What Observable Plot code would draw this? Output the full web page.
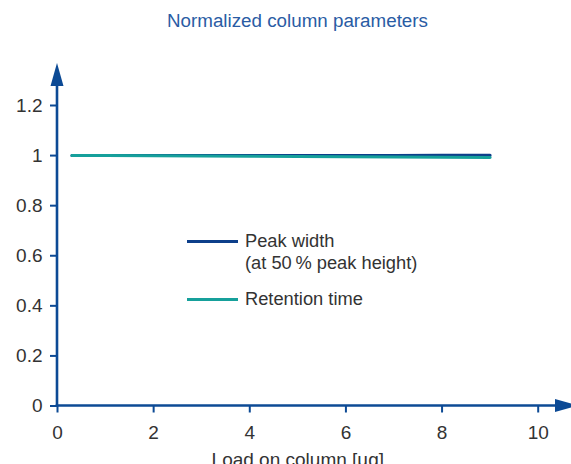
<!DOCTYPE html>
<html>
<head>
<meta charset="utf-8">
<script src="https://cdn.jsdelivr.net/npm/d3@7"></script>
<script src="https://cdn.jsdelivr.net/npm/@observablehq/plot@0.6"></script>
<style>
  html, body { margin: 0; padding: 0; background: #fff; }
  #wrap { position: relative; width: 571px; height: 464px; overflow: hidden; font-family: "Liberation Sans", Arial, sans-serif; }
  #title { position: absolute; left: 57px; width: 481px; top: 10px; text-align: center; font-size: 18.8px; line-height: 22px; color: #2a5ca4; }
  #chart { position: absolute; left: 0; top: 40px; }
  .leg { position: absolute; font-size: 18.3px; color: #333; line-height: 22px; }
  .legline { position: absolute; height: 3px; width: 51px; }
  #chart svg text { font-size: 19px; }
</style>
</head>
<body>
<div id="wrap">
  <div id="title">Normalized column parameters</div>
  <div id="chart"></div>
</div>
<script>
const title = "Normalized column parameters";
const xLabel = "Load on column [µg]";
const xTicks = [0, 2, 4, 6, 8, 10];
const yTicks = [0, 0.2, 0.4, 0.6, 0.8, 1, 1.2];
const loads = [0.3, 1, 2, 3, 4, 5, 6, 7, 8, 9];
const peakWidth = [1.0, 1.0, 1.0, 1.0, 1.0, 1.0, 1.0005, 1.0008, 1.001, 1.0012];
const retentionTime = [1.0, 1.0, 0.999, 0.998, 0.997, 0.996, 0.995, 0.994, 0.993, 0.992];
const seriesNames = ["Peak width", "Retention time"];
const seriesSub = "(at 50\u202F% peak height)";
const colors = ["#0d3f8a", "#16a09b"];
const axisColor = "#0c4a95";

const rows = [];
loads.forEach((x, i) => rows.push({x, y: peakWidth[i], s: seriesNames[0]}));
loads.forEach((x, i) => rows.push({x, y: retentionTime[i], s: seriesNames[1]}));

const W = 571, H = 424;
const chart = Plot.plot({
  width: W,
  height: H,
  marginLeft: 57,
  marginRight: 33.3,
  marginTop: 65,
  marginBottom: 58.5,
  style: { fontFamily: "Liberation Sans, Arial, sans-serif", fontSize: "19px", color: "#333", background: "transparent", overflow: "visible" },
  x: { domain: [0, 10] },
  y: { domain: [0, 1.2] },
  color: { domain: seriesNames, range: colors },
  marks: [
    Plot.axisX({ ticks: xTicks, tickSize: 7, tickPadding: 12, stroke: axisColor, strokeWidth: 2, fill: "#333", label: null, fontSize: 19, tickFormat: d => String(d) }),
    Plot.axisY({ ticks: yTicks, tickSize: 7, tickPadding: 8, stroke: axisColor, strokeWidth: 2, fill: "#333", label: null, fontSize: 19, tickFormat: d => String(d) }),
    Plot.text([xLabel], { frameAnchor: "bottom", dy: 54, lineAnchor: "middle", fill: "#333", fontSize: 19 }),
    Plot.line(rows.filter(d => d.s === seriesNames[0]), { x: "x", y: "y", stroke: colors[0], strokeWidth: 3 }),
    Plot.line(rows.filter(d => d.s === seriesNames[1]), { x: "x", y: "y", stroke: colors[1], strokeWidth: 3 })
  ]
});
document.getElementById("chart").appendChild(chart);

// axis lines with filled arrowheads, positioned from the plot's scales
const sx = chart.scale("x"), sy = chart.scale("y");
const x0 = sx.apply(0), y0 = sy.apply(0);
const svg = d3.select(chart);
const g = svg.append("g");
const yTip = 23, xTip = 578;
g.append("line").attr("x1", x0).attr("x2", x0).attr("y1", y0 + 1).attr("y2", yTip + 10)
  .attr("stroke", axisColor).attr("stroke-width", 2.6);
g.append("path").attr("d", `M${x0},${yTip}L${x0 + 6.5},${yTip + 23}L${x0 - 6.5},${yTip + 23}Z`).attr("fill", axisColor);
g.append("line").attr("x1", x0 - 1.3).attr("x2", xTip - 10).attr("y1", y0).attr("y2", y0)
  .attr("stroke", axisColor).attr("stroke-width", 2.6);
g.append("path").attr("d", `M${xTip},${y0}L${xTip - 23},${y0 - 6.5}L${xTip - 23},${y0 + 6.5}Z`).attr("fill", axisColor);

// legend overlay
const wrap = document.getElementById("wrap");
function addLine(top, color) {
  const d = document.createElement("div");
  d.className = "legline"; d.style.left = "187px"; d.style.top = top + "px"; d.style.background = color;
  wrap.appendChild(d);
}
function addText(top, html) {
  const d = document.createElement("div");
  d.className = "leg"; d.style.left = "245px"; d.style.top = top + "px"; d.innerHTML = html;
  wrap.appendChild(d);
}
addLine(239.5, colors[0]);
addText(230, seriesNames[0] + "<br>" + seriesSub);
addLine(297.5, colors[1]);
addText(288, seriesNames[1]);
</script>
</body>
</html>
